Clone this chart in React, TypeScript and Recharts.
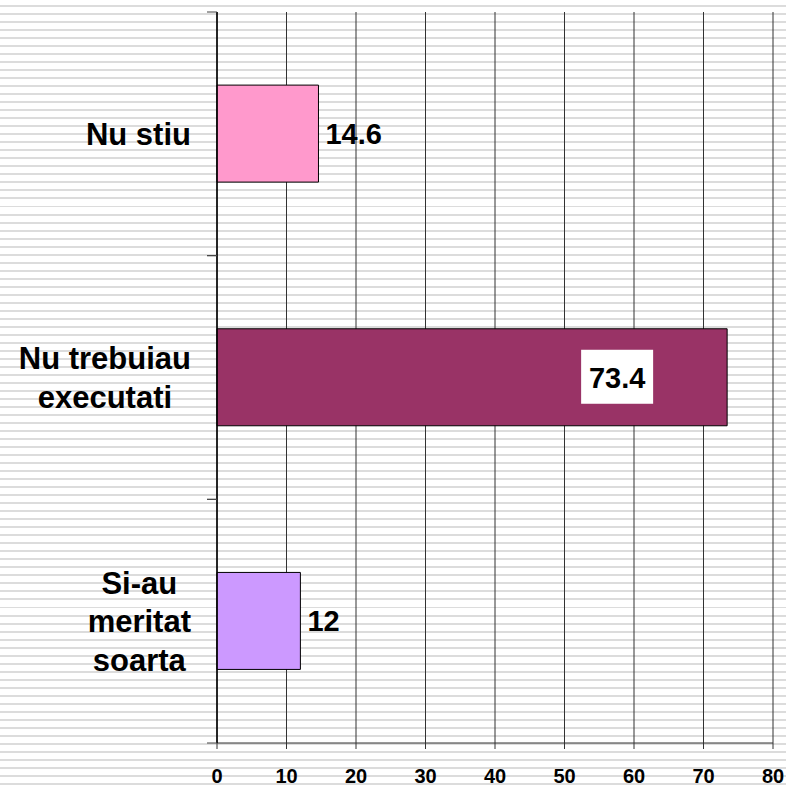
import React from 'react';
import { BarChart, Bar, XAxis, YAxis, CartesianGrid, Cell, LabelList } from 'recharts';

const categories = ['Nu stiu', 'Nu trebuiau executati', 'Si-au meritat soarta'];
const categoryLines = [['Nu stiu'], ['Nu trebuiau', 'executati'], ['Si-au', 'meritat', 'soarta']];
const values = [14.6, 73.4, 12];
const barColors = ['#FF99CC', '#993366', '#CC99FF'];
const xTicks = [0, 10, 20, 30, 40, 50, 60, 70, 80];

const data = categories.map((c, i) => ({ name: c, value: values[i] }));

const FONT = "'Liberation Sans', Arial, Helvetica, sans-serif";
const TICK_MARGIN = 26;
const EDGE_TICK = 10;
let ctx: CanvasRenderingContext2D | null = null;
function measure(t: string, size: number): number {
  if (!ctx) ctx = document.createElement('canvas').getContext('2d');
  if (!ctx) return t.length * size * 0.6;
  ctx.font = `bold ${size}px ${FONT}`;
  return ctx.measureText(t).width;
}

const CategoryTick = (props: any) => {
  const { x, y, payload } = props;
  const idx = categories.indexOf(payload.value);
  const lines = idx >= 0 ? categoryLines[idx] : [String(payload.value)];
  const w = Math.max(...lines.map((l) => measure(l, 31)));
  const cx = x - w / 2;
  const lh = 38.5;
  const half = typeof payload.offset === 'number' ? payload.offset : 0;
  const axisX = x + TICK_MARGIN;
  return (
    <g>
      {half > 0 && (
        <>
          <line x1={axisX - EDGE_TICK} x2={axisX} y1={y - half} y2={y - half} stroke="#444" strokeWidth={1} />
          <line x1={axisX - EDGE_TICK} x2={axisX} y1={y + half} y2={y + half} stroke="#444" strokeWidth={1} />
        </>
      )}
      {lines.map((l, i) => (
        <text
          key={i}
          x={cx}
          y={y + 11 + (i - (lines.length - 1) / 2) * lh}
          textAnchor="middle"
          fontFamily={FONT}
          fontWeight="bold"
          fontSize={31}
          fill="#000"
        >
          {l}
        </text>
      ))}
    </g>
  );
};

const ValueLabel = (props: any) => {
  const { x, y, width, height, value } = props;
  const cy = y + height / 2;
  const end = x + width;
  if (value > 50) {
    const cx = end - 110;
    return (
      <g>
        <rect x={cx - 36} y={cy - 27.5} width={72} height={54} fill="#fff" />
        <text x={cx} y={cy + 10.5} textAnchor="middle" fontFamily={FONT} fontWeight="bold" fontSize={29} fill="#000">
          {value}
        </text>
      </g>
    );
  }
  return (
    <text x={end + 7} y={cy + 10.5} textAnchor="start" fontFamily={FONT} fontWeight="bold" fontSize={29} fill="#000">
      {value}
    </text>
  );
};

export default function App() {
  return (
    <div
      style={{
        position: 'absolute',
        left: 0,
        top: 0,
        width: 786,
        height: 786,
        background:
          'repeating-linear-gradient(to bottom, #ffffff 0px, #ffffff 5px, #dcdcdc 5px, #dcdcdc 7px, #ffffff 7px, #ffffff 8.02px)',
      }}
    >
      <BarChart
        width={786}
        height={786}
        data={data}
        layout="vertical"
        margin={{ top: 12, right: 13, bottom: 0, left: 0 }}
        barCategoryGap="30%"
      >
        <CartesianGrid horizontal={false} vertical={true} stroke="#333" strokeWidth={1} />
        <XAxis
          type="number"
          domain={[0, 80]}
          ticks={xTicks}
          interval={0}
          height={43}
          tickSize={6}
          tickMargin={20}
          axisLine={{ stroke: '#333', strokeWidth: 1 }}
          tickLine={{ stroke: '#333', strokeWidth: 1 }}
          tick={{ fontFamily: FONT, fontWeight: 'bold', fontSize: 20, fill: '#000' }}
        />
        <YAxis
          type="category"
          dataKey="name"
          width={217}
          tickSize={0}
          tickMargin={TICK_MARGIN}
          interval={0}
          axisLine={{ stroke: '#000', strokeWidth: 1.5 }}
          tickLine={false}
          tick={<CategoryTick />}
        />
        <Bar dataKey="value" stroke="#000" strokeWidth={1} isAnimationActive={false}>
          {data.map((d, i) => (
            <Cell key={d.name} fill={barColors[i]} />
          ))}
          <LabelList dataKey="value" content={<ValueLabel />} />
        </Bar>
      </BarChart>
    </div>
  );
}
